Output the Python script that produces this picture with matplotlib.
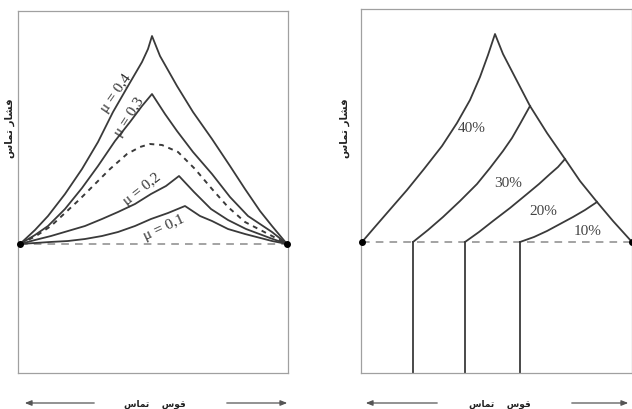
import matplotlib
matplotlib.use("Agg")
import matplotlib.pyplot as plt
from matplotlib.patches import FancyArrowPatch

# ---------------- data (arbitrary units) ----------------
# Left panel: friction hill for different friction coefficients
mu_labels = ["μ = 0,4", "μ = 0,3", "μ = 0,2", "μ = 0,1"]
mu04_x = [0, 15, 28, 45, 62, 78, 93, 108, 122, 128, 132, 140, 157, 173, 192, 210, 225, 240, 252, 267]
mu04_y = [0, 14, 28, 50, 75, 102, 132, 158, 182, 195, 208, 188, 158, 132, 105, 78, 55, 33, 18, 0]
mu03_x = [0, 15, 28, 45, 62, 78, 95, 110, 122, 132, 145, 157, 173, 192, 210, 228, 252, 267]
mu03_y = [0, 9, 18, 35, 56, 78, 103, 122, 138, 150, 130, 113, 92, 70, 47, 28, 12, 0]
mu02_x = [0, 15, 31, 48, 65, 82, 98, 115, 131, 146, 159, 174, 191, 208, 226, 250, 267]
mu02_y = [0, 4, 8, 13, 18, 25, 32, 40, 50, 58, 68, 52, 35, 24, 15, 6, 0]
mu01_x = [0, 30, 48, 65, 82, 98, 115, 131, 148, 165, 180, 192, 208, 225, 252, 267]
mu01_y = [0, 2, 3, 5, 8, 12, 18, 25, 31, 38, 28, 23, 15, 10, 3, 0]
dash_x = [0, 16, 31, 45, 60, 73, 90, 107, 120, 130, 142, 158, 175, 192, 208, 225, 252, 267]
dash_y = [0, 8, 18, 31, 45, 58, 75, 90, 97, 100, 99, 92, 75, 55, 37, 22, 8, 0]
left_span = [0, 267]

# Right panel: friction hill for different reductions
red_labels = ["40%", "30%", "20%", "10%"]
r40_x = [0, 12, 25, 45, 62, 80, 95, 108, 118, 126, 133, 141, 155, 168, 185, 203, 218, 235, 251, 270]
r40_y = [0, 14, 29, 52, 73, 96, 119, 142, 165, 187, 208, 188, 161, 136, 109, 83, 61, 40, 21, 0]
r30_x = [51, 66, 81, 98, 115, 128, 141, 150, 158, 168]
r30_y = [0, 12, 25, 41, 58, 74, 91, 104, 118, 136]
r20_x = [103, 117, 131, 148, 165, 177, 188, 196, 203]
r20_y = [0, 10, 21, 34, 48, 58, 68, 75, 83]
r10_x = [158, 172, 185, 198, 211, 223, 235]
r10_y = [0, 5, 11, 18, 25, 32, 40]
right_span = [0, 270]
entry_x = [51, 103, 158]          # vertical lines (start of contact)
bottom_y = -131

ylabel_txt = "\uFEB1\uFE8E\uFEE4\uFE97 \uFEAD\uFE8E\uFEB8\uFED3"     # فشار تماس
xlabel_txt = "\uFEB1\uFE8E\uFEE4\uFE97    \uFEB1\uFEEE\uFED7"       # قوس تماس

# ---------------- figure ----------------
W, H = 632, 410
fig = plt.figure(figsize=(W / 100, H / 100), dpi=100)

def px_axes(l, t, r, b):
    return fig.add_axes([l / W, 1 - b / H, (r - l) / W, (b - t) / H])

line_c = "#3a3a3a"
box_c = "#a0a0a0"
serif = "Liberation Serif"

# ---- Left panel ----
axL = px_axes(18, 12, 288, 374)
axL.set_xlim(-2, 268)
axL.set_ylim(-129, 233)
for s in axL.spines.values():
    s.set_color(box_c)
    s.set_linewidth(0.9)
axL.set_xticks([])
axL.set_yticks([])

axL.plot(left_span, [0, 0], color="#8a8a8a", lw=1.1, ls=(0, (5, 4)), zorder=1)
for xs, ys in [(mu04_x, mu04_y), (mu03_x, mu03_y), (mu02_x, mu02_y), (mu01_x, mu01_y)]:
    axL.plot(xs, ys, color=line_c, lw=1.3, zorder=2, solid_joinstyle="round")
axL.plot(dash_x, dash_y, color=line_c, lw=1.4, ls=(0, (2.5, 2.5)), zorder=2)
axL.plot(left_span, [0, 0], "o", color="black", ms=4, zorder=3, clip_on=False)

label_pos = [(96, 152, 55), (109, 128, 57), (122, 56, 38), (144, 17, 25)]
for txt, (x, y, rot) in zip(mu_labels, label_pos):
    axL.text(x, y, txt, rotation=rot, ha="center", va="center",
             fontsize=11, family=serif, color="#333333", rotation_mode="anchor")

# ---- Right panel ----
axR = px_axes(361, 10, 632, 374)
axR.set_xlim(-1, 270)
axR.set_ylim(bottom_y, 233)
for s in axR.spines.values():
    s.set_color(box_c)
    s.set_linewidth(0.9)
axR.set_xticks([])
axR.set_yticks([])

axR.plot(right_span, [0, 0], color="#8a8a8a", lw=1.1, ls=(0, (5, 4)), zorder=1)
for xs, ys in [(r40_x, r40_y), (r30_x, r30_y), (r20_x, r20_y), (r10_x, r10_y)]:
    axR.plot(xs, ys, color=line_c, lw=1.3, zorder=2, solid_joinstyle="round")
for ex in entry_x:
    axR.plot([ex, ex], [0, bottom_y], color=line_c, lw=1.3, zorder=2)
axR.plot(right_span, [0, 0], "o", color="black", ms=4, zorder=3, clip_on=False)

red_pos = [(110, 115), (146, 59), (181, 31), (226, 11)]
for txt, (x, y) in zip(red_labels, red_pos):
    axR.text(x, y, txt, ha="center", va="center", fontsize=11,
             family=serif, color="#444444")

# ---- axis captions (Persian) ----
for xp in (10, 345):
    fig.text(xp / W, 1 - 128 / H, ylabel_txt, rotation=90, ha="center",
             va="center", fontsize=7.5, family="DejaVu Sans", color="#222222",
             fontweight="bold")

arrow_y = H - 404
for (a0, a1, b0, b1, xc) in [(97, 22, 224, 290, 155), (440, 363, 569, 631, 500)]:
    for s, e in [(a0, a1), (b0, b1)]:
        fig.add_artist(FancyArrowPatch(
            (s, arrow_y), (e, arrow_y), transform=None,
            arrowstyle="-|>,head_length=4,head_width=1.6",
            color="#555555", lw=0.9, mutation_scale=1))
    fig.text(xc / W, arrow_y / H, xlabel_txt, ha="center", va="center",
             fontsize=6.5, family="DejaVu Sans", color="#222222",
             fontweight="bold")

fig.savefig("out.png", dpi=100)
